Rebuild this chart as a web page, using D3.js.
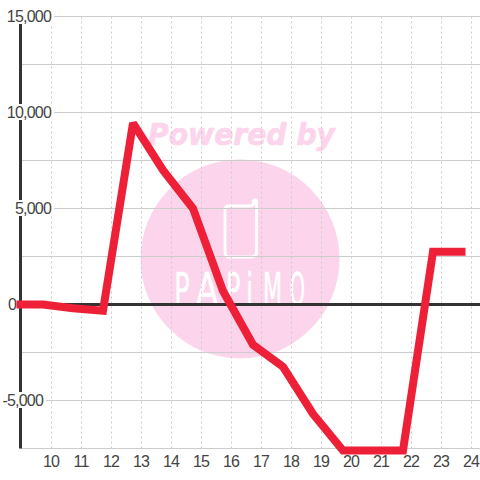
<!DOCTYPE html>
<html><head><meta charset="utf-8">
<script src="https://cdn.jsdelivr.net/npm/d3@7"></script>
<style>html,body{margin:0;padding:0;background:#fff}svg{display:block}</style>
</head><body><svg id="c" width="480" height="480"></svg>
<script>
const hours = [9, 9.75, 10.75, 11.75, 12.75, 13.75, 14.75, 15.75, 16.75, 17.75, 18.75, 19.75, 20.75, 21.75, 22.75, 23.7];
const values = [0, 0, -200, -320, 9450, 7000, 5000, 700, -2100, -3250, -5700, -7600, -7600, -7600, 2750, 2750];
const xTicks = [10,11,12,13,14,15,16,17,18,19,20,21,22,23,24];
const yLabelled = [15000,10000,5000,0,-5000];
const yMinor = [12500,7500,2500,-2500,-7500];
const watermarkTop = "Powered by";
const watermarkBrand = ["P","A","P","i","M","O"];

const svg = d3.select("#c");
const x = d3.scaleLinear().domain([9,24.33]).range([20.5,480.4]);
const y = d3.scaleLinear().domain([-7500,15000]).range([448.5,16.5]);
const font = "'Liberation Sans',Arial,sans-serif";
const fmt = d => d3.format(",")(d).replace("\u2212","-");

// watermark
const wm = svg.append("g");
wm.append("circle").attr("cx",240).attr("cy",259).attr("r",99.5).attr("fill","#fcd5ec");
wm.append("text").text(watermarkTop).attr("x",148).attr("y",145)
  .attr("font-family","'DejaVu Sans'").attr("font-weight","bold").attr("font-style","italic")
  .attr("font-size",31).attr("textLength",187).attr("lengthAdjust","spacingAndGlyphs")
  .attr("fill","#fcd5ec").attr("stroke","#fcd5ec").attr("stroke-width",0.7);
wm.append("path").attr("d","M229 206H250Q253.5 206 253.5 203V201.5Q253.5 200 255 200Q256.5 200 256.5 201.5V252Q256.5 257 251 257H229Q225 257 225 252V210Q225 206 229 206Z")
  .attr("fill","none").attr("stroke","#fff").attr("stroke-width",2.8);
const brandX = [182, 207, 233, 249.5, 272.5, 297.5];
const brandW = [0.95, 1.2, 0.9, 1, 0.82, 0.72];
wm.append("g").selectAll("text").data(watermarkBrand).join("text").text(d=>d)
  .attr("text-anchor","middle")
  .attr("transform",(d,i)=>`translate(${brandX[i]},305) scale(${brandW[i]},1.62)`)
  .attr("font-family","'DejaVu Sans'").attr("font-size",27)
  .attr("fill","#fff").attr("stroke","#fff").attr("stroke-width",0.3);

// grid
svg.append("g").selectAll("line").data(xTicks).join("line")
  .attr("x1",d=>Math.round(x(d))+.5).attr("x2",d=>Math.round(x(d))+.5).attr("y1",y(15000)).attr("y2",y(-7500))
  .attr("stroke","#ccc").attr("stroke-dasharray","2,3");
svg.append("g").selectAll("line").data(yLabelled.concat(yMinor)).join("line")
  .attr("x1",x(9)).attr("x2",480).attr("y1",d=>y(d)).attr("y2",d=>y(d))
  .attr("stroke","#ccc").attr("stroke-width",1);
svg.append("line").attr("x1",x(9)).attr("x2",480).attr("y1",y(0)).attr("y2",y(0)).attr("stroke","#333").attr("stroke-width",3);
svg.append("line").attr("x1",x(9)).attr("x2",x(9)).attr("y1",y(15000)).attr("y2",y(-7500)).attr("stroke","#333").attr("stroke-width",3);

// y labels with white plates
const yl = svg.append("g").selectAll("g").data(yLabelled).join("g");
const ly = yl.append("text").text(d=>fmt(d)).attr("text-anchor","end")
  .attr("x",d=>d===-5000?43:(d===0?16:51)).attr("y",d=>y(d)+5.5)
  .attr("font-family",font).attr("font-size",16).attr("letter-spacing",-0.8).attr("fill","#444");
ly.each(function(d){
  const b=this.getBBox();
  if(d!==0) d3.select(this.parentNode).insert("rect","text").attr("x",b.x-2).attr("y",y(d)-8.5).attr("width",b.width+4).attr("height",16).attr("fill","#fff");
});
// x labels
svg.append("g").selectAll("text").data(xTicks).join("text").text(d=>d)
  .attr("x",d=>x(d)+.5).attr("y",467).attr("text-anchor","middle")
  .attr("font-family",font).attr("font-size",16).attr("letter-spacing",-0.8).attr("fill","#444");

// series
const line = d3.line().x((d,i)=>x(hours[i])).y(d=>y(d));
svg.append("path").datum(values).attr("d",line).attr("fill","none").attr("stroke","#ee2038")
  .attr("stroke-width",8).attr("stroke-linecap","square").attr("stroke-linejoin","miter").attr("stroke-miterlimit",2);
</script></body></html>
